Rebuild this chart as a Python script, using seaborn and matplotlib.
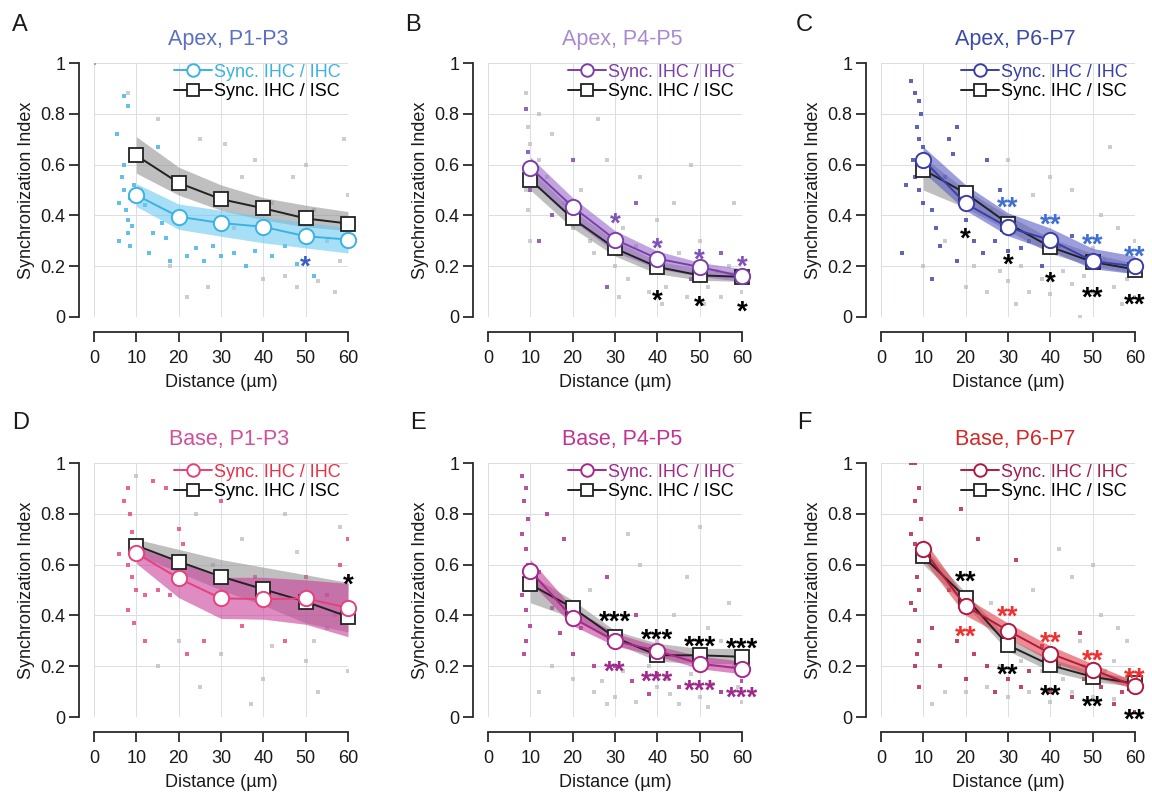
import matplotlib
matplotlib.use("Agg")
import matplotlib.pyplot as plt
import matplotlib.transforms as mtransforms
import seaborn as sns
from matplotlib.lines import Line2D

# ---------------- data ----------------
distance = [10, 20, 30, 40, 50, 60]
x_ticks = [0, 10, 20, 30, 40, 50, 60]
y_ticks = [0, 0.2, 0.4, 0.6, 0.8, 1.0]
y_tick_labels = ["0", "0.2", "0.4", "0.6", "0.8", "1"]
panel_letters = ["A", "B", "C", "D", "E", "F"]
titles = ["Apex, P1-P3", "Apex, P4-P5", "Apex, P6-P7",
          "Base, P1-P3", "Base, P4-P5", "Base, P6-P7"]
legend_labels = ["Sync. IHC / IHC", "Sync. IHC / ISC"]

# Panel A
a_ihc = [0.48, 0.395, 0.37, 0.355, 0.318, 0.305]
a_ihc_lo = [0.435, 0.345, 0.318, 0.292, 0.272, 0.252]
a_ihc_hi = [0.525, 0.445, 0.42, 0.395, 0.372, 0.352]
a_isc = [0.636, 0.528, 0.464, 0.428, 0.388, 0.368]
a_isc_lo = [0.566, 0.48, 0.42, 0.382, 0.355, 0.34]
a_isc_hi = [0.71, 0.59, 0.52, 0.47, 0.44, 0.415]
a_stars = [(50, 0.23, "*", "c")]
a_dots_x = [5.5, 6, 6.5, 7, 7.5, 8, 8, 8.5, 9, 6, 7, 8.5, 9.5, 12, 14, 15, 16, 17, 13, 18, 22, 24, 26, 28, 30, 33, 36, 38, 42, 45, 48, 52, 8, 7, 0]
a_dots_y = [0.72, 0.45, 0.55, 0.50, 0.42, 0.38, 0.33, 0.47, 0.36, 0.30, 0.60, 0.28, 0.52, 0.44, 0.33, 0.67, 0.37, 0.31, 0.25, 0.22, 0.24, 0.27, 0.22, 0.28, 0.24, 0.25, 0.20, 0.26, 0.24, 0.28, 0.21, 0.16, 0.83, 0.87, 1.0]
a_gray_x = [8, 15, 18, 22, 27, 31, 35, 38, 42, 45, 48, 50, 53, 55, 58, 60, 25, 33, 47, 57, 20, 40, 52, 59]
a_gray_y = [0.88, 0.78, 0.2, 0.08, 0.12, 0.68, 0.55, 0.62, 0.45, 0.16, 0.12, 0.6, 0.14, 0.3, 0.22, 0.48, 0.7, 0.35, 0.55, 0.1, 0.55, 0.15, 0.42, 0.7]

# Panel B
b_ihc = [0.588, 0.434, 0.305, 0.23, 0.197, 0.16]
b_ihc_lo = [0.54, 0.38, 0.255, 0.19, 0.16, 0.14]
b_ihc_hi = [0.63, 0.47, 0.34, 0.26, 0.215, 0.19]
b_isc = [0.54, 0.388, 0.27, 0.197, 0.164, 0.158]
b_isc_lo = [0.50, 0.35, 0.24, 0.17, 0.145, 0.14]
b_isc_hi = [0.58, 0.42, 0.30, 0.22, 0.19, 0.175]
b_stars = [(30, 0.40, "*", "c"), (40, 0.30, "*", "c"), (50, 0.257, "*", "c"), (60, 0.23, "*", "c"),
           (40, 0.095, "*", "k"), (50, 0.072, "*", "k"), (60, 0.053, "*", "k")]
b_dots_x = [9, 10, 20, 28, 35, 48, 55, 15, 9.5, 12]
b_dots_y = [0.82, 0.5, 0.62, 0.12, 0.45, 0.15, 0.25, 0.4, 0.65, 0.3]
b_gray_x = [9, 9.5, 10, 9, 9.5, 10, 12, 14, 15, 18, 20, 22, 24, 25, 28, 30, 32, 33, 35, 38, 40, 42, 45, 47, 50, 52, 55, 57, 60, 58, 36, 44, 26, 48, 12, 54, 31, 41, 51]
b_gray_y = [0.88, 0.75, 0.68, 0.5, 0.42, 0.3, 0.62, 0.55, 0.72, 0.45, 0.35, 0.5, 0.3, 0.25, 0.62, 0.2, 0.35, 0.15, 0.28, 0.1, 0.38, 0.12, 0.25, 0.08, 0.3, 0.12, 0.08, 0.2, 0.1, 0.45, 0.55, 0.45, 0.78, 0.6, 0.8, 0.18, 0.08, 0.05, 0.05]

# Panel C
c_ihc = [0.618, 0.447, 0.353, 0.303, 0.22, 0.2]
c_ihc_lo = [0.57, 0.42, 0.32, 0.26, 0.19, 0.17]
c_ihc_hi = [0.67, 0.52, 0.41, 0.35, 0.27, 0.24]
c_isc = [0.58, 0.487, 0.368, 0.276, 0.217, 0.187]
c_isc_lo = [0.50, 0.43, 0.34, 0.25, 0.20, 0.17]
c_isc_hi = [0.63, 0.50, 0.40, 0.31, 0.25, 0.21]
c_stars = [(30, 0.463, "**", "c"), (40, 0.397, "**", "c"), (50, 0.318, "**", "c"), (60, 0.27, "**", "c"),
           (20, 0.342, "*", "k"), (30, 0.237, "*", "k"), (40, 0.168, "*", "k"),
           (50, 0.108, "**", "k"), (60, 0.079, "**", "k")]
c_dots_x = [7, 8, 9, 9.5, 8.5, 9, 10, 7.5, 8, 9, 6, 10, 12, 13, 15, 16, 17, 18, 19, 20, 22, 24, 25, 27, 28, 30, 33, 35, 38, 12, 14, 42, 45, 5, 18]
c_dots_y = [0.93, 0.88, 0.85, 0.8, 0.75, 0.7, 0.67, 0.62, 0.55, 0.5, 0.52, 0.45, 0.42, 0.35, 0.55, 0.7, 0.64, 0.75, 0.5, 0.38, 0.3, 0.25, 0.62, 0.3, 0.5, 0.26, 0.27, 0.3, 0.2, 0.15, 0.28, 0.28, 0.32, 0.25, 0.22]
c_gray_x = [20, 25, 30, 35, 40, 45, 50, 55, 60, 22, 28, 33, 38, 43, 48, 53, 58, 36, 45, 52, 56, 54, 30, 40, 26, 15, 10, 47, 32, 57, 60, 50]
c_gray_y = [0.12, 0.1, 0.14, 0.1, 0.09, 0.13, 0.1, 0.12, 0.08, 0.2, 0.18, 0.2, 0.15, 0.18, 0.16, 0.22, 0.15, 0.48, 0.5, 0.4, 0.35, 0.67, 0.62, 0.55, 0.42, 0.3, 0.2, 0.0, 0.05, 0.05, 0.3, 0.27]

# Panel D
d_ihc = [0.645, 0.546, 0.467, 0.464, 0.467, 0.43]
d_ihc_lo = [0.605, 0.47, 0.388, 0.385, 0.365, 0.316]
d_ihc_hi = [0.67, 0.61, 0.55, 0.55, 0.54, 0.526]
d_isc = [0.675, 0.612, 0.553, 0.503, 0.454, 0.395]
d_isc_lo = [0.64, 0.57, 0.50, 0.44, 0.37, 0.335]
d_isc_hi = [0.70, 0.66, 0.62, 0.59, 0.56, 0.53]
d_stars = [(60, 0.553, "*", "k")]
d_dots_x = [8, 7, 8.5, 9, 9, 6, 8, 9, 10, 12, 15, 18, 20, 21, 14, 17, 30, 26, 35, 38, 8, 9.5, 12, 45, 22, 50, 55, 58, 60]
d_dots_y = [0.9, 0.85, 0.8, 0.73, 0.68, 0.64, 0.6, 0.55, 0.5, 0.48, 0.5, 0.48, 0.74, 0.68, 0.93, 0.9, 0.85, 0.3, 0.36, 0.55, 0.42, 0.37, 0.3, 0.3, 0.25, 0.55, 0.48, 0.6, 0.7]
d_gray_x = [10, 15, 20, 25, 30, 35, 40, 45, 50, 55, 60, 28, 33, 42, 48, 53, 58, 24, 37, 44, 52, 57]
d_gray_y = [0.95, 0.2, 0.3, 0.12, 0.25, 0.7, 0.15, 0.8, 0.22, 0.35, 0.18, 0.6, 0.9, 0.28, 0.65, 0.1, 0.75, 0.8, 0.05, 0.48, 0.3, 0.4]

# Panel E
e_ihc = [0.576, 0.39, 0.30, 0.26, 0.21, 0.19]
e_ihc_lo = [0.53, 0.36, 0.28, 0.24, 0.19, 0.17]
e_ihc_hi = [0.62, 0.43, 0.33, 0.28, 0.24, 0.22]
e_isc = [0.522, 0.43, 0.313, 0.243, 0.243, 0.237]
e_isc_lo = [0.45, 0.39, 0.29, 0.22, 0.21, 0.21]
e_isc_hi = [0.56, 0.46, 0.34, 0.29, 0.27, 0.27]
e_stars = [(30, 0.408, "***", "k"), (40, 0.336, "***", "k"), (50, 0.309, "***", "k"), (60, 0.303, "***", "k"),
           (30, 0.21, "**", "c"), (40, 0.171, "***", "c"), (50, 0.134, "***", "c"), (60, 0.108, "***", "c")]
e_dots_x = [8, 9, 8.5, 9.5, 8, 9, 9.5, 8, 9, 10, 9, 8.5, 12, 15, 17, 20, 22, 25, 28, 30, 34, 38, 40, 45, 50, 55, 18, 14, 35, 60]
e_dots_y = [0.95, 0.9, 0.85, 0.78, 0.72, 0.66, 0.6, 0.48, 0.42, 0.36, 0.3, 0.25, 0.57, 0.43, 0.33, 0.25, 0.35, 0.2, 0.55, 0.2, 0.14, 0.09, 0.17, 0.12, 0.3, 0.1, 0.7, 0.8, 0.4, 0.14]
e_gray_x = [20, 25, 30, 35, 40, 45, 50, 55, 60, 32, 38, 42, 48, 53, 58, 44, 52, 57, 47, 36, 24, 15, 12, 28, 40, 55, 33, 50, 27, 43, 52, 59]
e_gray_y = [0.15, 0.1, 0.08, 0.06, 0.12, 0.05, 0.08, 0.1, 0.06, 0.18, 0.2, 0.15, 0.17, 0.13, 0.2, 0.4, 0.35, 0.45, 0.55, 0.6, 0.5, 0.2, 0.1, 0.05, 0.3, 0.3, 0.72, 0.75, 0.14, 0.09, 0.04, 0.12]

# Panel F
f_ihc = [0.66, 0.437, 0.34, 0.25, 0.187, 0.121]
f_ihc_lo = [0.62, 0.40, 0.31, 0.22, 0.16, 0.11]
f_ihc_hi = [0.70, 0.47, 0.37, 0.28, 0.21, 0.14]
f_isc = [0.632, 0.47, 0.283, 0.204, 0.158, 0.132]
f_isc_lo = [0.60, 0.44, 0.26, 0.18, 0.14, 0.12]
f_isc_hi = [0.67, 0.49, 0.31, 0.23, 0.18, 0.15]
f_stars = [(20, 0.566, "**", "k"), (30, 0.20, "**", "k"), (40, 0.118, "**", "k"), (50, 0.072, "**", "k"), (60, 0.02, "**", "k"),
           (20, 0.349, "**", "c"), (30, 0.428, "**", "c"), (40, 0.326, "**", "c"), (50, 0.253, "**", "c"), (60, 0.184, "**", "c")]
f_dots_x = [7, 8, 9, 8, 9.5, 7, 8, 9, 8.5, 9, 7, 8, 9, 8.5, 8, 9, 12, 14, 16, 18, 20, 22, 25, 27, 30, 33, 35, 38, 40, 42, 45, 48, 52, 55, 57, 60, 23, 32, 19, 47]
f_dots_y = [1.0, 1.0, 0.9, 0.85, 0.78, 0.72, 0.68, 0.64, 0.55, 0.5, 0.45, 0.42, 0.3, 0.25, 0.2, 0.12, 0.35, 0.2, 0.5, 0.3, 0.15, 0.25, 0.2, 0.1, 0.15, 0.12, 0.18, 0.28, 0.1, 0.2, 0.08, 0.15, 0.12, 0.05, 0.1, 0.02, 0.7, 0.62, 0.82, 0.33]
f_gray_x = [20, 25, 30, 35, 40, 45, 50, 55, 60, 28, 33, 38, 43, 48, 53, 58, 36, 45, 52, 56, 42, 50, 15, 12, 26, 58, 47, 55]
f_gray_y = [0.1, 0.12, 0.08, 0.1, 0.06, 0.1, 0.08, 0.07, 0.1, 0.2, 0.22, 0.18, 0.15, 0.2, 0.18, 0.16, 0.5, 0.55, 0.4, 0.35, 0.66, 0.6, 0.1, 0.05, 0.45, 0.3, 0.3, 0.22]

# colours: (line, band, title, legend text, star)
styles = [
    ("#3cb2e2", "#6ccaf0", "#5b6fc4", "#3cb2e2", "#3a5cc8"),
    ("#7b3fa8", "#9a6ac8", "#a98ad0", "#7b3fa8", "#8050b8"),
    ("#3a3ea8", "#5a5ec4", "#3a4aaa", "#3a3ea8", "#3f6fd0"),
    ("#e8407a", "#c8409a", "#d0509a", "#e8304a", "#e8304a"),
    ("#a8288a", "#c0409a", "#c0348f", "#a0288a", "#a0288a"),
    ("#b01a40", "#e0404a", "#d02a2a", "#a02050", "#f03030"),
]

panels = [
    (a_ihc, a_ihc_lo, a_ihc_hi, a_isc, a_isc_lo, a_isc_hi, a_stars, a_dots_x, a_dots_y, a_gray_x, a_gray_y),
    (b_ihc, b_ihc_lo, b_ihc_hi, b_isc, b_isc_lo, b_isc_hi, b_stars, b_dots_x, b_dots_y, b_gray_x, b_gray_y),
    (c_ihc, c_ihc_lo, c_ihc_hi, c_isc, c_isc_lo, c_isc_hi, c_stars, c_dots_x, c_dots_y, c_gray_x, c_gray_y),
    (d_ihc, d_ihc_lo, d_ihc_hi, d_isc, d_isc_lo, d_isc_hi, d_stars, d_dots_x, d_dots_y, d_gray_x, d_gray_y),
    (e_ihc, e_ihc_lo, e_ihc_hi, e_isc, e_isc_lo, e_isc_hi, e_stars, e_dots_x, e_dots_y, e_gray_x, e_gray_y),
    (f_ihc, f_ihc_lo, f_ihc_hi, f_isc, f_isc_lo, f_isc_hi, f_stars, f_dots_x, f_dots_y, f_gray_x, f_gray_y),
]

# ---------------- figure ----------------
sns.set_style("ticks")
plt.rcParams["font.family"] = ["Liberation Sans", "DejaVu Sans"]
plt.rcParams["font.size"] = 13

W, H = 1152, 793
fig = plt.figure(figsize=(W / 100, H / 100), dpi=100)

lefts = [94, 488, 881]
tops = [63, 463]
letter_pos = [(12, 14), (405, 14), (796, 14), (12, 412), (410, 412), (797, 412)]
aw, ah = 254, 254
STAR_FS = 20

for i, (ihc, ihc_lo, ihc_hi, isc, isc_lo, isc_hi, stars, dx, dy, gx, gy) in enumerate(panels):
    col = i % 3
    row = i // 3
    L = lefts[col]
    T = tops[row]
    ax = fig.add_axes([L / W, 1 - (T + ah) / H, aw / W, ah / H])
    line_c, band_c, title_c, leg_c, star_c = styles[i]

    ax.set_xlim(0, 60)
    ax.set_ylim(0, 1)
    ax.grid(True, color="#dcdce8", lw=0.7, zorder=0)
    ax.set_axisbelow(True)

    sns.scatterplot(x=gx, y=gy, ax=ax, color="#b8b8be", s=6, marker="s", linewidth=0, alpha=0.7, zorder=1)
    sns.scatterplot(x=dx, y=dy, ax=ax, color=line_c, s=6, marker="s", linewidth=0, alpha=0.8, zorder=1)

    ax.fill_between(distance, isc_lo, isc_hi, color="#8c8c8c", alpha=0.55, linewidth=0, zorder=2)
    ax.fill_between(distance, ihc_lo, ihc_hi, color=band_c, alpha=0.6, linewidth=0, zorder=2)

    sns.lineplot(x=distance, y=isc, ax=ax, color="#222222", lw=1.4, marker="s", markersize=10,
                 markerfacecolor="white", markeredgecolor="#222222", markeredgewidth=1.3,
                 clip_on=False, zorder=4)
    sns.lineplot(x=distance, y=ihc, ax=ax, color=line_c, lw=1.4, marker="o", markersize=11,
                 markerfacecolor="white", markeredgecolor=line_c, markeredgewidth=1.4,
                 clip_on=False, zorder=5)

    star_tr = mtransforms.offset_copy(ax.transData, fig=fig, y=-0.58 * STAR_FS, units="points")
    for (sx, sy, txt, ck) in stars:
        ax.text(sx, sy, txt, ha="center", va="baseline", fontsize=STAR_FS, fontweight="bold",
                color=(star_c if ck == "c" else "black"), transform=star_tr, zorder=6)

    handles = [
        Line2D([0], [0], color=line_c, lw=1.4, marker="o", markersize=9, markerfacecolor="white",
               markeredgecolor=line_c, markeredgewidth=1.4),
        Line2D([0], [0], color="#222222", lw=1.4, marker="s", markersize=8.5, markerfacecolor="white",
               markeredgecolor="#222222", markeredgewidth=1.3),
    ]
    ax.legend(handles, legend_labels, loc="upper right", frameon=False, fontsize=13,
              handlelength=2.1, handletextpad=0.1, labelspacing=0.15, borderaxespad=0.0,
              borderpad=0.2, labelcolor=[leg_c, "black"],
              bbox_to_anchor=(1 - 4 / aw, 1 + 3 / ah))

    sns.despine(ax=ax, offset=11)
    ax.spines["left"].set_bounds(0, 1)
    ax.spines["bottom"].set_bounds(0, 60)
    for s in ("left", "bottom"):
        ax.spines[s].set_linewidth(1.3)
        ax.spines[s].set_color("#2a2a2a")
    ax.set_xticks(x_ticks)
    ax.set_yticks(y_ticks)
    ax.set_yticklabels(y_tick_labels)
    ax.tick_params(axis="both", length=7, width=1.3, color="#2a2a2a", labelsize=13, labelcolor="#1a1a1a")
    ax.tick_params(axis="x", pad=6)
    ax.tick_params(axis="y", pad=2.5)
    ax.set_xlabel("Distance (\u00b5m)", fontsize=13, labelpad=5, color="#1a1a1a")
    ax.set_ylabel("Synchronization Index", fontsize=13, labelpad=4, color="#1a1a1a")

    ax.text(0.53, 1 + 24 / ah, titles[i], transform=ax.transAxes, ha="center", va="center",
            fontsize=15.5, color=title_c)
    lx, ly = letter_pos[i]
    fig.text(lx / W, 1 - ly / H, panel_letters[i], ha="left", va="top", fontsize=17, color="#1a1a1a")

fig.savefig("out.png", dpi=100)
